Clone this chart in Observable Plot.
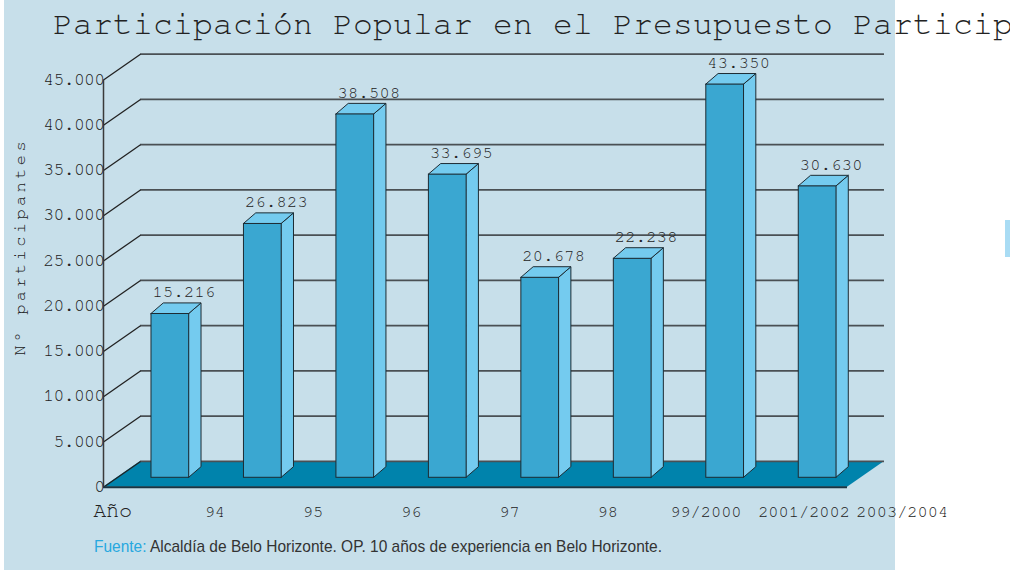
<!DOCTYPE html>
<html><head><meta charset="utf-8">
<script src="https://cdn.jsdelivr.net/npm/d3@7"></script>
<script src="https://cdn.jsdelivr.net/npm/@observablehq/plot@0.6"></script>
<style>
html,body{margin:0;padding:0;background:#fff;overflow:hidden;width:1010px;height:571px;}
#wrap{position:relative;width:1010px;height:571px;}
#panel{position:absolute;left:4px;top:0;width:891px;height:570px;background:#c7dfea;z-index:0;}
#tab{position:absolute;left:1005px;top:220px;width:5px;height:37px;background:#a9dcf4;z-index:0;}
#title{position:relative;z-index:1;height:44px;box-sizing:border-box;padding-left:53px;padding-top:7px;font-family:"Nimbus Mono PS","FreeMono","Liberation Mono","DejaVu Sans Mono",monospace;font-size:33px;letter-spacing:0.2px;line-height:35px;white-space:nowrap;color:#222;}
#chart{position:relative;z-index:1;height:486px;}
#chart svg{overflow:visible;background:transparent;}
#cap{position:relative;z-index:1;display:block;}
g[aria-description="valores"] text{letter-spacing:0.3px;}
g[aria-description="ticks"] text{letter-spacing:-0.6px;}
g[aria-description="anio"] text{letter-spacing:-0.4px;}
g[aria-description="titulo-y"] text{letter-spacing:3.4px;}
</style>
</head><body>
<div id="wrap">
  <div id="panel"></div>
  <div id="tab"></div>
  <div id="title"></div>
  <div id="chart"></div>
  <svg id="cap" width="1010" height="41"></svg>
</div>
<script>
// ---- data ----
const titulo = "Participación Popular en el Presupuesto Participativo";
const categorias = ["94", "95", "96", "97", "98", "99/2000", "2001/2002", "2003/2004"];
const participantes = [15216, 26823, 38508, 33695, 20678, 22238, 43350, 30630];
// bar heights as drawn in the picture (read against the gridlines)
const alturaDibujada = [18100, 28050, 40150, 33500, 22100, 24200, 43450, 32200];
const ticksY = [0, 5000, 10000, 15000, 20000, 25000, 30000, 35000, 40000, 45000];
const etiquetaEjeY = "N° participantes";
const etiquetaEjeX = "Año";
const fuenteEtiqueta = "Fuente:";
const fuenteTexto = " Alcaldía de Belo Horizonte. OP. 10 años de experiencia en Belo Horizonte.";

// ---- layout parameters (oblique projection, in data units) ----
const X0 = -0.573, X1 = 7.473;   // floor extent along category axis
const DX = 0.4, DY = 2850;       // depth of the back wall
const BX = 0.15, BY = 1040;      // bar front face position within the depth
const BW = 0.408;                // bar width
const SDX = 0.133, SDY = 1171;   // bar depth
const LX0 = 0.631, LXS = 1.062;  // year-label placement (start, step) along the axis

const fmt = d3.formatLocale({decimal: ",", thousands: ".", grouping: [3], currency: ["", ""]}).format(",d");
const mono = "Nimbus Mono PS, FreeMono, Liberation Mono, DejaVu Sans Mono, monospace";

document.getElementById("title").textContent = titulo;

const barras = categorias.map((c, i) => ({
  i, c, v: participantes[i], h: alturaDibujada[i],
  left: i - BW / 2 + BX, right: i + BW / 2 + BX
}));
const suelo = [{y: 0, x1: X0, x2: X1}, {y: DY, x1: X0 + DX, x2: X1 + DX}];
const lados = barras.flatMap(b => [
  {i: b.i, x: b.right, y1: BY, y2: BY + b.h},
  {i: b.i, x: b.right + SDX, y1: BY + SDY, y2: BY + b.h + SDY}
]);
const tapas = barras.flatMap(b => [
  {i: b.i, y: BY + b.h, x1: b.left, x2: b.right},
  {i: b.i, y: BY + b.h + SDY, x1: b.left + SDX, x2: b.right + SDX}
]);

const edge = "#1d2b33";
const ink = "#222";
const plot = Plot.plot({
  width: 1010, height: 486,
  marginLeft: 103, marginRight: 163, marginTop: 35.5, marginBottom: 43.3,
  style: {background: "transparent", overflow: "visible"},
  x: {type: "linear", domain: [X0, X1], axis: null},
  y: {type: "linear", domain: [0, 45000], axis: null},
  marks: [
    Plot.areaX(suelo, {y: "y", x1: "x1", x2: "x2", fill: "#0083ac"}),
    Plot.ruleY(ticksY, {y: d => d + DY, x1: X0 + DX, x2: X1 + DX, stroke: "#4a5054", strokeWidth: 1.7}),
    Plot.link(ticksY, {x1: X0, y1: d => d, x2: X0 + DX, y2: d => d + DY, stroke: "#222", strokeWidth: 1.3}),
    Plot.ruleX([X0], {y1: 0, y2: 45000, stroke: "#3a3a3a", strokeWidth: 1.5}),
    Plot.ruleY([0], {x1: X0, x2: X1, stroke: "#1b3442", strokeWidth: 2}),
    Plot.areaY(lados, {x: "x", y1: "y1", y2: "y2", z: "i", fill: "#74cbef", stroke: edge, strokeWidth: 1}),
    Plot.areaX(tapas, {y: "y", x1: "x1", x2: "x2", z: "i", fill: "#74cbef", stroke: edge, strokeWidth: 1}),
    Plot.rect(barras, {x1: "left", x2: "right", y1: BY, y2: d => BY + d.h, fill: "#3aa7d1", stroke: edge, strokeWidth: 1}),
    Plot.text(barras, {x: "left", y: d => BY + d.h + SDY, text: d => fmt(d.v), textAnchor: "start", lineAnchor: "bottom",
      dx: 1, dy: -6, fontSize: 17, fontFamily: mono, fill: ink, ariaDescription: "valores"}),
    Plot.text(ticksY, {x: X0, y: d => d, text: d => fmt(d), textAnchor: "end", dx: 1, dy: -1, fontSize: 18, fontFamily: mono,
      fill: ink, ariaDescription: "ticks"}),
    Plot.text(barras, {x: d => LX0 + LXS * d.i, y: 0, text: "c", dy: 30, lineAnchor: "bottom", fontSize: 17,
      fontFamily: mono, fill: ink, ariaDescription: "categorias"}),
    Plot.text([etiquetaEjeX], {x: X0, y: 0, dx: 9, dy: 30, lineAnchor: "bottom", fontSize: 22, fontFamily: mono, fill: ink,
      ariaDescription: "anio"}),
    Plot.text([etiquetaEjeY], {frameAnchor: "left", rotate: -90, textAnchor: "start", dx: -79, dy: 72, lineAnchor: "bottom", fontSize: 17,
      fontFamily: mono, fill: ink, ariaDescription: "titulo-y"})
  ]
});
document.getElementById("chart").appendChild(plot);

// caption
const cap = d3.select("#cap");
const t = cap.append("text").attr("x", 94).attr("y", 21.7)
  .attr("font-family", "Liberation Sans, Arial, sans-serif").attr("font-size", 17)
  .attr("textLength", 568).attr("lengthAdjust", "spacingAndGlyphs");
t.append("tspan").attr("fill", "#27a8df").text(fuenteEtiqueta);
t.append("tspan").attr("fill", "#333").text(fuenteTexto);
</script>
</body></html>
